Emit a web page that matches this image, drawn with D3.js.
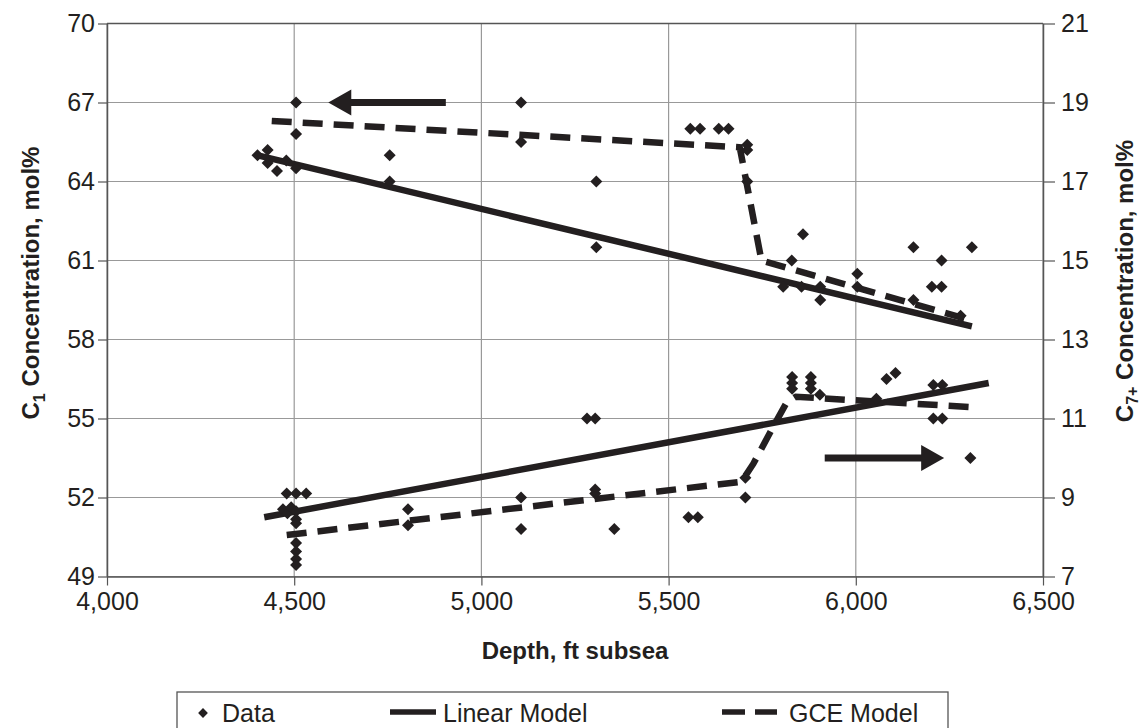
<!DOCTYPE html>
<html>
<head>
<meta charset="utf-8">
<script src="https://cdn.jsdelivr.net/npm/d3@7"></script>
<style>
  body { margin: 0; background: #fff; }
  svg { display: block; font-family: 'Liberation Sans', Arial, sans-serif; }
  .tick-label { font-size: 25px; fill: #231f20; }
  .title { font-size: 24px; font-weight: bold; fill: #231f20; }
  .legend-text { font-size: 25px; fill: #231f20; }
  .grid line { stroke: #999; stroke-width: 1.2; }
</style>
</head>
<body>
<svg class="chart" width="1143" height="728"></svg>
<script>
// depth (ft subsea) and C1 concentration (mol%)
const c1Data = [
  [4402, 65.0], [4429, 65.2], [4429, 64.7], [4454, 64.4], [4479, 64.8], [4505, 64.5],
  [4505, 65.8], [4505, 67.0], [4755, 65.0], [4755, 64.0], [5106, 67.0], [5106, 65.5],
  [5307, 64.0], [5307, 61.5], [5558, 66.0], [5584, 66.0], [5634, 66.0], [5660, 66.0],
  [5710, 65.4], [5710, 65.2], [5710, 64.0], [5806, 60.0], [5829, 61.0], [5855, 60.0],
  [5859, 62.0], [5905, 59.5], [5905, 60.0], [6004, 60.5], [6004, 60.0], [6154, 61.5],
  [6154, 59.5], [6203, 60.0], [6229, 60.0], [6229, 61.0], [6280, 58.9], [6310, 61.5],
];

// depth and C7+ concentration (mol%)
const c7Data = [
  [4480, 9.1], [4505, 9.1], [4532, 9.1], [4470, 8.7], [4482, 8.6], [4492, 8.75],
  [4505, 8.65], [4505, 8.45], [4505, 8.35], [4505, 7.85], [4505, 7.63], [4505, 7.44],
  [4505, 7.29], [4804, 8.7], [4804, 8.3], [5106, 9.0], [5106, 8.2], [5282, 11.0],
  [5304, 11.0], [5304, 9.2], [5304, 9.1], [5355, 8.2], [5553, 8.5], [5578, 8.5],
  [5705, 9.5], [5705, 9.0], [5830, 12.05], [5830, 11.9], [5830, 11.75], [5880, 12.05],
  [5880, 11.9], [5880, 11.75], [5904, 11.6], [6055, 11.5], [6082, 12.0], [6106, 12.15],
  [6207, 11.85], [6231, 11.85], [6207, 11.0], [6231, 11.0], [6306, 10.0],
];

const linearC1 = [[4400, 65.0], [6310, 58.5]];
const gceC1 = [[4440, 66.3], [5690, 65.3], [5748, 61.0], [6315, 58.7]];
const linearC7 = [[4420, 8.5], [6355, 11.9]];
const gceC7 = [[4480, 8.05], [5695, 9.4], [5726, 9.85], [5780, 10.8], [5815, 11.4], [5840, 11.55], [6326, 11.28]];

// arrows: [tail, tip]
const arrowC1 = [[4905, 67], [4591, 67]];
const arrowC7 = [[5917, 10], [6236, 10]];

const xTicks = [4000, 4500, 5000, 5500, 6000, 6500];
const c1Ticks = [49, 52, 55, 58, 61, 64, 67, 70];
const c7Ticks = [7, 9, 11, 13, 15, 17, 19, 21];

const ink = '#231f20';
const margin = { top: 23.5, left: 107, right: 100, bottom: 151.5 };
const width = 1143 - margin.left - margin.right;
const height = 728 - margin.top - margin.bottom;

const svg = d3.select('.chart');
const chart = svg.append('g').attr('transform', `translate(${margin.left}, ${margin.top})`);

const xScale = d3.scaleLinear().domain([4000, 6500]).range([0, width]);
const yLeft = d3.scaleLinear().domain([49, 70]).range([height, 0]);
const yRight = d3.scaleLinear().domain([7, 21]).range([height, 0]);

// grid
chart.append('g').classed('grid', true).selectAll('line')
  .data(xTicks).enter().append('line')
  .attr('x1', d => xScale(d)).attr('x2', d => xScale(d))
  .attr('y1', 0).attr('y2', height);
chart.append('g').classed('grid', true).selectAll('line')
  .data(c1Ticks).enter().append('line')
  .attr('x1', 0).attr('x2', width)
  .attr('y1', d => yLeft(d)).attr('y2', d => yLeft(d));

// axes
const styleAxis = (g) => {
  g.select('.domain').attr('stroke', '#555').attr('stroke-width', 1.5);
  g.selectAll('.tick line').attr('stroke', '#555').attr('stroke-width', 1.2);
  g.selectAll('.tick text').attr('class', 'tick-label').attr('font-size', null).attr('font-family', null);
};

chart.append('g')
  .attr('transform', `translate(0, ${height})`)
  .call(d3.axisBottom(xScale).tickValues(xTicks).tickFormat(d3.format(',')).tickSize(9).tickPadding(7).tickSizeOuter(0))
  .call(styleAxis);

chart.append('g')
  .call(d3.axisLeft(yLeft).tickValues(c1Ticks).tickSize(9).tickPadding(3).tickSizeOuter(0))
  .call(styleAxis);

chart.append('g')
  .attr('transform', `translate(${width}, 0)`)
  .call(d3.axisRight(yRight).tickValues(c7Ticks).tickSize(12).tickPadding(6).tickSizeOuter(0))
  .call(styleAxis);

chart.append('line')
  .attr('x1', 0).attr('x2', width).attr('y1', 0).attr('y2', 0)
  .attr('stroke', '#555').attr('stroke-width', 1.5);

// model lines
const lineC1 = d3.line().x(d => xScale(d[0])).y(d => yLeft(d[1]));
const lineC7 = d3.line().x(d => xScale(d[0])).y(d => yRight(d[1]));

const drawModel = (data, line, dashed) => {
  chart.append('path')
    .datum(data)
    .attr('d', line)
    .attr('fill', 'none')
    .attr('stroke', ink)
    .attr('stroke-width', 6.5)
    .attr('stroke-dasharray', dashed ? '20 11' : null);
};

drawModel(linearC1, lineC1, false);
drawModel(gceC1, lineC1, true);
drawModel(linearC7, lineC7, false);
drawModel(gceC7, lineC7, true);

// data points
const diamond = d3.symbol(d3.symbolSquare, 72);
const drawPoints = (data, yScale) => {
  chart.append('g').selectAll('path')
    .data(data).enter().append('path')
    .attr('d', diamond)
    .attr('fill', ink)
    .attr('transform', d => `translate(${xScale(d[0])}, ${yScale(d[1])}) rotate(45)`);
};
drawPoints(c1Data, yLeft);
drawPoints(c7Data, yRight);

// arrows
const drawArrow = ([tail, tip], yScale) => {
  const x1 = xScale(tail[0]);
  const x2 = xScale(tip[0]);
  const y = yScale(tip[1]);
  const dir = Math.sign(x2 - x1);
  const headLen = 23;
  const headHalf = 13;
  const shaftHalf = 3.6;
  const xb = x2 - dir * headLen;
  const path = d3.path();
  path.moveTo(x1, y - shaftHalf);
  path.lineTo(xb, y - shaftHalf);
  path.lineTo(xb, y - headHalf);
  path.lineTo(x2, y);
  path.lineTo(xb, y + headHalf);
  path.lineTo(xb, y + shaftHalf);
  path.lineTo(x1, y + shaftHalf);
  path.closePath();
  chart.append('path').attr('d', path.toString()).attr('fill', ink);
};
drawArrow(arrowC1, yLeft);
drawArrow(arrowC7, yRight);

// axis titles
svg.append('text')
  .classed('title', true)
  .attr('text-anchor', 'middle')
  .attr('x', margin.left + width / 2)
  .attr('y', 659)
  .text('Depth, ft subsea');

const leftTitle = svg.append('text')
  .classed('title', true)
  .attr('text-anchor', 'middle')
  .attr('transform', 'translate(39, 283) rotate(-90)');
leftTitle.append('tspan').text('C');
leftTitle.append('tspan').attr('dy', 6).attr('font-size', 16).text('1');
leftTitle.append('tspan').attr('dy', -6).text(' Concentration, mol%');

const rightTitle = svg.append('text')
  .classed('title', true)
  .attr('text-anchor', 'middle')
  .attr('transform', 'translate(1133, 281) rotate(-90)');
rightTitle.append('tspan').text('C');
rightTitle.append('tspan').attr('dy', 5).attr('font-size', 16).text('7+');
rightTitle.append('tspan').attr('dy', -5).text(' Concentration, mol%');

// legend
const legend = svg.append('g').attr('transform', 'translate(177, 692)');
legend.append('rect')
  .attr('width', 771).attr('height', 60)
  .attr('fill', 'none').attr('stroke', '#555').attr('stroke-width', 1.3);

legend.append('path')
  .attr('d', d3.symbol(d3.symbolSquare, 48))
  .attr('fill', ink)
  .attr('transform', 'translate(26, 21) rotate(45)');
legend.append('text').classed('legend-text', true).attr('x', 45).attr('y', 30).text('Data');

legend.append('line')
  .attr('x1', 213).attr('x2', 259).attr('y1', 20).attr('y2', 20)
  .attr('stroke', ink).attr('stroke-width', 5.5);
legend.append('text').classed('legend-text', true).attr('x', 266).attr('y', 30).text('Linear Model');

legend.append('line')
  .attr('x1', 545).attr('x2', 600).attr('y1', 20).attr('y2', 20)
  .attr('stroke', ink).attr('stroke-width', 5.5).attr('stroke-dasharray', '23 10');
legend.append('text').classed('legend-text', true).attr('x', 612).attr('y', 30).text('GCE Model');
</script>
</body>
</html>
